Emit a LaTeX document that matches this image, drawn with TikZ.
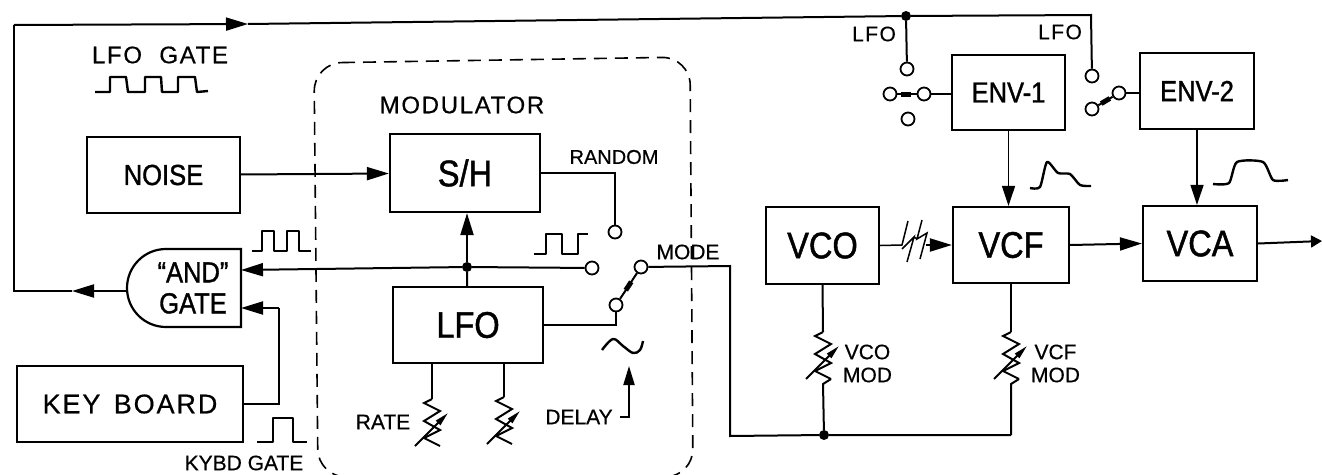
\documentclass[tikz,border=0pt]{standalone}
\usepackage{fontspec}
\setmainfont[FakeBold=.5]{Liberation Sans}
\newfontfamily\blockfont[FakeStretch=.88,FakeBold=1.2]{Liberation Sans}
\newfontfamily\widefont[LetterSpace=7,FakeBold=.5]{Liberation Sans}
\usetikzlibrary{arrows.meta,positioning,calc,shapes.misc}
\tikzset{
  varres/.pic={
    \coordinate (-top) at (0,0);
    \coordinate (-bot) at (8,47);
    \draw[sigline] (0,0)--(-8,4)--(8,12)--(-8,22)--(8,31)--(-8,39)--(8,47);
    \draw[sigline,-{Triangle[length=14pt,width=6pt]}] (-17,47)--(16,14);
  }
}
\begin{document}
\begin{tikzpicture}[
  x=1pt,y=-1pt,>=Stealth,
  every node/.style={inner sep=0pt,text=black},
  sigline/.style={draw=black,line width=2pt},
  thinline/.style={draw=black,line width=1.5pt},
  flow/.style={sigline,-{Triangle[length=22pt,width=13pt]}},
  thinflow/.style={thinline,-{Triangle[length=20pt,width=13pt]}},
  blockbox/.style={draw=black,line width=2.2pt,align=center},
  bigblock/.style={blockbox,font=\blockfont\fontsize{37}{37}\selectfont},
  midblock/.style={blockbox,font=\blockfont\fontsize{29}{29}\selectfont},
  tag/.style={font=\fontsize{21}{23}\selectfont,align=center},
  widetag/.style={font=\widefont\fontsize{21}{23}\selectfont},
  headtag/.style={font=\widefont\fontsize{24}{26}\selectfont},
  contact/.style={circle,draw=black,line width=1.8pt,fill=white,minimum size=13pt},
  junction/.style={circle,fill=black,minimum size=10pt},
  knob/.style={rectangle,fill=black,sloped,minimum width=10pt,minimum height=5pt},
  wave/.style={draw=black,line width=2.4pt,line join=round}
]
\useasboundingbox (0,0) rectangle (1322,474);
% Modulator outline runs slightly off the lower edge, as in the scan.
\draw[black,line width=1.6pt,dash pattern=on 13pt off 8pt,rounded corners=28pt]
  (314,63) -- (690,57) -- (693,477) -- (318,477) -- cycle;
% Blocks
\node[midblock,minimum width=153pt,minimum height=76pt] (noise) at (163.5,175) {NOISE};
\node[midblock,font=\widefont\fontsize{27}{27}\selectfont,minimum width=226pt,minimum height=76pt] (keyboard) at (130,404) {KEY\hspace{4pt} BOARD};
\node[blockbox,rounded rectangle,rounded rectangle right arc=none,minimum width=114pt,minimum height=78pt] (andgate) at (184,288) {};
\node[midblock,draw=none] (andtext) at (193,288) {“AND”\\[2pt]GATE};
\node[bigblock,minimum width=150pt,minimum height=78pt] (sh) at (465,173) {S/H};
\node[bigblock,minimum width=150pt,minimum height=76pt] (lfo) at (468,325) {LFO};
\node[bigblock,minimum width=113pt,minimum height=77pt] (vco) at (822.5,245.5) {VCO};
\node[bigblock,minimum width=116pt,minimum height=76pt] (vcf) at (1011,245) {VCF};
\node[bigblock,minimum width=114pt,minimum height=75pt] (vca) at (1200,243.5) {VCA};
\node[midblock,minimum width=113pt,minimum height=75pt] (envone) at (1008.5,92.5) {ENV-1};
\node[midblock,minimum width=114pt,minimum height=76pt] (envtwo) at (1197,91) {ENV-2};
% Labels
\node[headtag] (lfogatetag) at (160,55) {LFO\hspace{9pt} GATE};
\node[headtag] (modtag) at (462,105) {MODULATOR};
\node[tag,font=\fontsize{20}{22}\selectfont] (randomtag) at (614,157) {RANDOM};
\node[tag] (modetag) at (688,252) {MODE};
\node[tag] (delaytag) at (579,417) {DELAY};
\node[tag] (ratetag) at (383,422) {RATE};
\node[tag] (kybdtag) at (244,463) {KYBD GATE};
\node[widetag] (lfotaga) at (874,34) {LFO};
\node[widetag] (lfotagb) at (1060,32) {LFO};
\node[tag] (vcotag) at (867.5,363.5) {VCO\\MOD};
\node[tag] (vcftag) at (1055.5,363.5) {VCF\\MOD};
% Switch contacts and junctions
\node[junction] (junlfo) at (467,267) {};
\node[junction] (juntop) at (906,16) {};
\node[junction] (junmod) at (824,435) {};
\node[contact] (swrandom) at (615,232) {};
\node[contact] (swsquare) at (592,268) {};
\node[contact] (swmode) at (641,267) {};
\node[contact] (swsine) at (616,305) {};
\node[contact] (enva) at (907,69) {};
\node[contact] (envb) at (890,94) {};
\node[contact] (envc) at (924,94) {};
\node[contact] (envd) at (908,119) {};
\node[contact] (enve) at (1092,76) {};
\node[contact] (envf) at (1092,109) {};
\node[contact] (envg) at (1119,93) {};
% Free ends of the connectors
\coordinate (topleft) at (14,25);
\coordinate (topmark) at (248,24);
\coordinate (topright) at (1091,15);
\coordinate (andout) at (72,291);
\coordinate (leftcorner) at (14,291);
\coordinate (andina) at (241,270);
\coordinate (andinb) at (241,308);
\coordinate (kbturn) at (279,404);
\coordinate (modecorner) at (730,266);
\coordinate (modelow) at (730,436);
\coordinate (vcfjoin) at (1011,435);
\coordinate (delaytip) at (629,366);
\coordinate (delayfoot) at (629,417);
\coordinate (delayend) at (620,417);
\coordinate (out) at (1322,241);
% Resistors
\pic (rateres) at (432,399) {varres};
\pic (delayres) at (504,397) {varres};
\pic (vcores) at (823,332) {varres};
\pic (vcfres) at (1011,332) {varres};
% Feedback loop across the top
\draw[flow] (andgate.west |- andout) -- (andout);
\draw[sigline] (andout) -- (leftcorner) -- (topleft);
\draw[flow] (topleft) -- (topmark);
\draw[sigline] (topmark) -- (juntop) -- (topright) -- (enve);
\draw[sigline] (juntop) -- (enva);
% Modulator
\draw[flow] (noise) -- (sh);
\draw[flow] (junlfo) -- (sh.south -| junlfo);
\draw[sigline] (lfo.north -| junlfo) -- (junlfo) -- (swsquare);
\draw[flow] (junlfo) -- (andina);
\draw[sigline] (sh.east) -| (swrandom);
\draw[sigline] (lfo.east) -| (swsine);
\draw[sigline] (swsine) -- node[knob,pos=.5] (modeknob) {} (swmode);
\draw[sigline] (swmode) -- (modecorner) -- (modelow) -- (junmod) -- (vcfjoin);
\draw[sigline] (keyboard.east) -- (kbturn) -- (kbturn |- andinb);
\draw[flow] (kbturn |- andinb) -- (andinb);
\draw[sigline] (lfo.south -| rateres-top) -- (rateres-top);
\draw[sigline] (lfo.south -| delayres-top) -- (delayres-top);
\draw[sigline,-{Triangle[length=19pt,width=11pt]}] (delayend) -- (delayfoot) -- (delaytip);
% Signal path
\draw[thinline] (vco.east) -- (902,245) -- (908,221) (902,249) -- (914,237) -- (907,262)
  (914,237) -- (917,239) (922,220) -- (917,239) -- (927,233) -- (920,259);
\draw[flow] (926,245) -- (vcf.west);
\draw[flow] (vcf.east) -- (vca.west);
\draw[sigline,-{Triangle[length=11pt,width=12pt]}] (vca.east) -- (out);
\draw[thinflow] (envone) -- (vcf.north -| envone);
\draw[thinflow] (envtwo) -- (vca.north -| envtwo);
\draw[sigline] (envb) -- node[knob,pos=.45] (envoneknob) {} (envc);
\draw[sigline] (envc) -- (envone.west |- envc);
\draw[sigline] (envf) -- node[knob,pos=.5] (envtwoknob) {} (envg);
\draw[sigline] (envg) -- (envtwo.west |- envg);
\draw[sigline] (vco.south) -- (vcores-top);
\draw[sigline] (vcf.south) -- (vcfres-top);
\draw[sigline] (vcores-bot) -- ++(-8,5) -- (junmod);
\draw[sigline] (vcfres-bot) -- ++(-8,5) -- (vcfjoin);
% Waveforms
\draw[wave] (95,92)--(110,92)--(110,77)--(126,77)--(128,92)--(145,92)--(145,77)--(161,77)--(162,92)--(178,92)--(178,77)--(195,77)--(197,92)--(208,91);
\draw[wave] (252,251)--(262,251)--(262,231)--(274,231)--(274,251)--(287,251)--(287,231)--(299,231)--(299,251)--(311,251);
\draw[wave] (257,442)--(273,442)--(273,418)--(293,418)--(293,442)--(307,442);
\draw[wave] (534,254)--(546,254)--(546,234)--(562,234)--(562,254)--(578,254)--(578,234)--(588,234);
\draw[wave] plot[smooth,tension=.6] coordinates {(602,350) (613,339) (623,346) (633,353) (640,350) (643,341)};
\draw[wave] plot[smooth,tension=.4] coordinates {(1030,188) (1040,187) (1047,162) (1058,173) (1070,174) (1080,185) (1091,186)};
\draw[wave] plot[smooth,tension=.4] coordinates {(1213,184) (1229,183) (1237,162) (1263,162) (1273,180) (1288,180)};
\end{tikzpicture}
\end{document}
